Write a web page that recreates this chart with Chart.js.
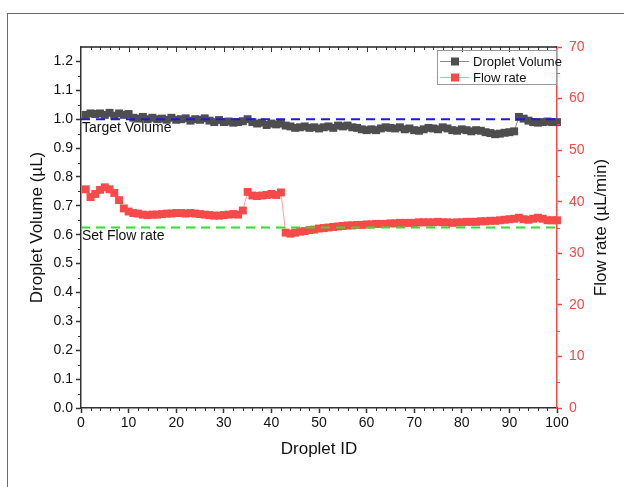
<!DOCTYPE html>
<html>
<head>
<meta charset="utf-8">
<script src="https://cdn.jsdelivr.net/npm/chart.js@4.4.1/dist/chart.umd.min.js"></script>
<style>
    html, body { margin: 0; padding: 0; background: #fff; }
    #wrap { position: relative; width: 624px; height: 487px; }
</style>
</head>
<body>
<div id="wrap"><canvas id="chart"></canvas></div>
<script>
// Datos
const dropletIds = Array.from({ length: 100 }, (_, i) => i + 1);

const dropletVolume = [
    1.015, 1.020, 1.018, 1.020, 1.015, 1.022, 1.012, 1.020, 1.015, 1.018,
    1.005, 1.002, 1.008, 1.000, 1.005, 1.000, 1.002, 0.998, 1.005, 0.998,
    1.000, 1.003, 0.995, 1.000, 0.998, 1.003, 0.995, 0.990, 0.997, 0.990,
    0.992, 0.988, 0.990, 0.993, 1.000, 0.990, 0.985, 0.988, 0.980, 0.985,
    0.982, 0.985, 0.978, 0.975, 0.970, 0.972, 0.975, 0.970, 0.972, 0.968,
    0.972, 0.975, 0.970, 0.978, 0.975, 0.978, 0.972, 0.970, 0.965, 0.962,
    0.965, 0.962, 0.968, 0.972, 0.970, 0.968, 0.972, 0.965, 0.968, 0.962,
    0.960, 0.965, 0.970, 0.968, 0.965, 0.972, 0.968, 0.962, 0.960, 0.965,
    0.962, 0.958, 0.962, 0.960, 0.955, 0.952, 0.948, 0.950, 0.953, 0.955,
    0.958, 1.008, 1.002, 0.995, 0.990, 0.988, 0.990, 0.992, 0.990, 0.990
];

const flowRate = [
    42.4, 40.9, 41.5, 42.3, 42.8, 42.4, 41.7, 40.3, 38.7, 38.1,
    37.8, 37.7, 37.5, 37.4, 37.5, 37.5, 37.6, 37.7, 37.7, 37.8,
    37.8, 37.7, 37.8, 37.7, 37.6, 37.5, 37.4, 37.3, 37.3, 37.4,
    37.5, 37.6, 37.5, 38.3, 41.9, 41.2, 41.1, 41.2, 41.3, 41.5,
    41.3, 41.8, 34.0, 33.8, 34.0, 34.2, 34.3, 34.5, 34.6, 34.8,
    34.9, 35.0, 35.1, 35.2, 35.3, 35.4, 35.4, 35.5, 35.5, 35.6,
    35.6, 35.7, 35.7, 35.7, 35.8, 35.8, 35.9, 35.9, 35.9, 35.9,
    36.0, 36.0, 36.0, 36.0, 36.1, 36.0, 36.0, 35.9, 36.0, 36.0,
    36.1, 36.1, 36.1, 36.2, 36.2, 36.3, 36.3, 36.4, 36.5, 36.6,
    36.7, 36.9, 36.6, 36.5, 36.7, 36.9, 36.7, 36.4, 36.4, 36.4
];

const targetVolume = [1.0, 1.0];
const setFlowRate = [35, 35];
const refLineX = [0, 100];

const FONT = '"Liberation Sans", Arial, sans-serif';
const colores = {
    volume: '#4e4e4e',
    volumeLine: '#8a8a8a',
    flow: '#f64a4a',
    flowLine: '#f7a3a3',
    target: '#1c1cd8',
    setFlow: '#2ee02e',
    axis: '#333333'
};

function pares(xs, ys) {
    return xs.map((x, i) => ({ x: x, y: ys[i] }));
}

// Dibujo de marco, ticks menores, leyenda y etiquetas
const decorPlugin = {
    id: 'decor',
    beforeDraw(chart) {
        const ctx = chart.ctx;
        ctx.save();
        ctx.fillStyle = '#fff';
        ctx.fillRect(0, 0, chart.width, chart.height);
        ctx.strokeStyle = '#6b6b6b';
        ctx.lineWidth = 1;
        ctx.strokeRect(7.5, 13.5, 1000, 1000);
        ctx.restore();
    },
    afterDraw(chart) {
        const { ctx, chartArea: a, scales } = chart;
        const x = scales.x, y = scales.y, y2 = scales.y2;
        ctx.save();

        // eje superior
        ctx.strokeStyle = '#222';
        ctx.lineWidth = 1.5;
        ctx.beginPath();
        ctx.moveTo(a.left, a.top);
        ctx.lineTo(a.right, a.top);
        ctx.stroke();

        ctx.lineWidth = 1;
        ctx.strokeStyle = colores.axis;
        ctx.beginPath();
        for (let v = 2; v < 100; v += 2) {
            const px = Math.round(x.getPixelForValue(v)) + 0.5;
            const len = v % 10 === 0 ? 5 : 3;
            if (v % 10 !== 0) {
                ctx.moveTo(px, a.bottom);
                ctx.lineTo(px, a.bottom + 3);
            }
            ctx.moveTo(px, a.top);
            ctx.lineTo(px, a.top + len);
        }
        for (let v = 0.05; v < 1.25; v += 0.1) {
            const py = Math.round(y.getPixelForValue(v)) + 0.5;
            ctx.moveTo(a.left, py);
            ctx.lineTo(a.left - 3, py);
        }
        ctx.stroke();

        ctx.strokeStyle = colores.flow;
        ctx.beginPath();
        for (let v = 5; v < 70; v += 10) {
            const py = Math.round(y2.getPixelForValue(v)) + 0.5;
            ctx.moveTo(a.right, py);
            ctx.lineTo(a.right + 3, py);
        }
        ctx.stroke();

        // etiquetas de referencia
        ctx.fillStyle = '#111';
        ctx.font = '14px ' + FONT;
        ctx.textBaseline = 'middle';
        ctx.textAlign = 'left';
        ctx.fillText('Target Volume', a.left + 1, y.getPixelForValue(targetVolume[0]) + 9);
        ctx.fillText('Set Flow rate', a.left + 1, y2.getPixelForValue(setFlowRate[0]) + 9);

        // leyenda
        ctx.strokeStyle = '#9a9a9a';
        ctx.lineWidth = 1;
        ctx.strokeRect(437.5, a.top + 3.5, a.right - 438, 34);
        const items = [
            { text: 'Droplet Volume', line: colores.volumeLine, mark: colores.volume, yy: a.top + 14 },
            { text: 'Flow rate', line: colores.flowLine, mark: colores.flow, yy: a.top + 30 }
        ];
        ctx.font = '13px ' + FONT;
        items.forEach(it => {
            ctx.strokeStyle = it.line;
            ctx.beginPath();
            ctx.moveTo(440, it.yy + 0.5);
            ctx.lineTo(469, it.yy + 0.5);
            ctx.stroke();
            ctx.fillStyle = it.mark;
            ctx.fillRect(451, it.yy - 3.5, 8, 8);
            ctx.fillStyle = '#111';
            ctx.fillText(it.text, 473, it.yy + 1);
        });

        // título del eje derecho
        ctx.translate(601, (a.top + a.bottom) / 2);
        ctx.rotate(-Math.PI / 2);
        ctx.textAlign = 'center';
        ctx.font = '17px ' + FONT;
        ctx.fillStyle = '#111';
        ctx.fillText('Flow rate (µL/min)', 0, 0);

        ctx.restore();
    }
};

document.addEventListener('DOMContentLoaded', function () {
    const ctx = document.getElementById('chart');
    new Chart(ctx, {
        type: 'line',
        data: {
            datasets: [
                {
                    label: 'Target Volume',
                    data: pares(refLineX, targetVolume),
                    yAxisID: 'y',
                    borderColor: colores.target,
                    borderWidth: 2,
                    borderDash: [9, 6],
                    pointRadius: 0,
                    order: 0
                },
                {
                    label: 'Set Flow rate',
                    data: pares(refLineX, setFlowRate),
                    yAxisID: 'y2',
                    borderColor: colores.setFlow,
                    borderWidth: 2,
                    borderDash: [9, 6],
                    pointRadius: 0,
                    order: 0
                },
                {
                    label: 'Droplet Volume',
                    data: pares(dropletIds, dropletVolume),
                    yAxisID: 'y',
                    borderColor: colores.volumeLine,
                    borderWidth: 1,
                    pointStyle: 'rect',
                    pointRadius: 5.6,
                    pointBackgroundColor: colores.volume,
                    pointBorderWidth: 0,
                    clip: false,
                    order: 1
                },
                {
                    label: 'Flow rate',
                    data: pares(dropletIds, flowRate),
                    yAxisID: 'y2',
                    borderColor: colores.flowLine,
                    borderWidth: 1,
                    pointStyle: 'rect',
                    pointRadius: 5.6,
                    pointBackgroundColor: colores.flow,
                    pointBorderWidth: 0,
                    clip: false,
                    order: 1
                }
            ]
        },
        options: {
            responsive: true,
            maintainAspectRatio: false,
            animation: false,
            layout: { padding: { top: 47, left: 0, right: 0, bottom: 0 } },
            plugins: {
                legend: { display: false },
                tooltip: { enabled: false }
            },
            scales: {
                x: {
                    type: 'linear',
                    position: 'bottom',
                    min: 0,
                    max: 100,
                    ticks: {
                        stepSize: 10,
                        color: '#111',
                        font: { family: FONT, size: 14 },
                        padding: 2,
                        maxRotation: 0
                    },
                    grid: { drawOnChartArea: false, tickLength: 5, tickColor: colores.axis, tickWidth: 1.5 },
                    border: { color: colores.axis, width: 1.5 },
                    title: {
                        display: true,
                        text: 'Droplet ID',
                        color: '#111',
                        font: { family: FONT, size: 17 },
                        padding: { top: 0, bottom: 27 }
                    },
                    afterFit: function (s) { s.height = 79; }
                },
                y: {
                    position: 'left',
                    min: 0,
                    max: 1.25,
                    ticks: {
                        stepSize: 0.1,
                        includeBounds: false,
                        color: '#111',
                        font: { family: FONT, size: 14 },
                        padding: 3,
                        callback: function (v) { return v.toFixed(1); }
                    },
                    grid: { drawOnChartArea: false, tickLength: 5, tickColor: colores.axis, tickWidth: 1.5 },
                    border: { color: colores.axis, width: 1.5 },
                    title: {
                        display: true,
                        text: 'Droplet Volume (µL)',
                        color: '#111',
                        font: { family: FONT, size: 17 },
                        padding: { top: 27, bottom: 0 }
                    },
                    afterFit: function (s) { s.width = 81; }
                },
                y2: {
                    position: 'right',
                    min: 0,
                    max: 70,
                    ticks: {
                        stepSize: 10,
                        color: colores.flow,
                        font: { family: FONT, size: 14 },
                        padding: 7
                    },
                    grid: { drawOnChartArea: false, tickLength: 5, tickColor: colores.flow, tickWidth: 1.5 },
                    border: { color: colores.flow, width: 1.5 },
                    afterFit: function (s) { s.width = 67; }
                }
            }
        },
        plugins: [decorPlugin]
    });
});
</script>
</body>
</html>
